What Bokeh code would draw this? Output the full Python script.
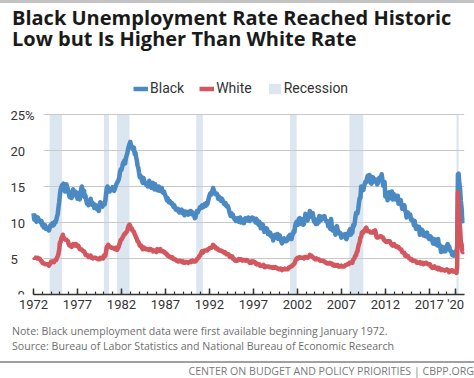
import numpy as np
from bokeh.plotting import figure
from bokeh.models import (Range1d, FixedTicker, Legend, LegendItem,
                          LabelSet, ColumnDataSource, Div)
from bokeh.layouts import column
from bokeh.embed import file_html
from bokeh.resources import INLINE
from bokeh.core.properties import value

# ---------------- data (monthly, Jan 1972 - Dec 2020) ----------------
start_year = 1972
black = [
    11.3, 10.4, 10.9, 10.3, 10.1, 10.5, 10.7, 10.4, 10.2, 10.3, 10.0, 10.2,  # 1972
    9.6, 9.8, 9.3, 9.4, 9.6, 9.1, 9.2, 9.3, 9.1, 8.9, 9.2, 9.6,              # 1973
    9.5, 9.8, 9.9, 9.6, 9.7, 10.1, 10.0, 10.3, 10.8, 11.1, 12.0, 12.8,       # 1974
    13.8, 14.6, 14.9, 15.2, 14.7, 15.4, 14.8, 14.3, 14.9, 15.3, 14.9, 14.6,  # 1975
    14.1, 13.6, 13.5, 13.9, 13.4, 14.2, 14.6, 14.1, 13.8, 14.3, 14.2, 13.8,  # 1976
    13.3, 14.1, 13.7, 13.2, 13.6, 14.7, 15.0, 14.5, 14.3, 14.4, 13.5, 13.7,  # 1977
    13.1, 12.6, 12.7, 12.4, 12.7, 12.9, 13.3, 12.5, 12.8, 12.4, 12.6, 12.0,  # 1978
    12.2, 12.4, 12.3, 11.8, 11.9, 11.6, 12.1, 12.8, 12.5, 12.3, 12.2, 12.6,  # 1979
    12.7, 12.5, 13.0, 14.0, 14.8, 15.0, 14.7, 14.6, 14.3, 14.6, 14.5, 14.7,  # 1980
    14.9, 14.5, 14.4, 14.7, 15.0, 15.3, 15.5, 15.7, 15.9, 16.3, 17.0, 17.4,  # 1981
    17.3, 17.7, 18.2, 18.4, 18.6, 18.2, 18.9, 19.3, 19.6, 20.2, 20.6, 20.9,  # 1982
    21.2, 20.8, 20.4, 20.5, 20.1, 20.4, 19.5, 19.7, 19.1, 18.6, 17.9, 17.6,  # 1983
    16.9, 16.3, 16.5, 16.2, 15.8, 15.5, 16.2, 15.8, 15.6, 15.4, 15.2, 15.3,  # 1984
    15.0, 15.3, 15.8, 15.1, 15.2, 14.8, 15.3, 15.5, 15.0, 14.6, 15.3, 14.7,  # 1985
    14.9, 14.5, 14.8, 15.0, 14.4, 14.7, 14.5, 14.8, 14.2, 14.1, 14.3, 14.0,  # 1986
    13.7, 13.5, 13.1, 13.4, 12.9, 12.8, 13.0, 12.8, 12.6, 12.7, 12.5, 12.2,  # 1987
    12.4, 12.1, 11.8, 11.9, 11.7, 11.9, 11.6, 11.4, 11.6, 11.5, 11.8, 11.3,  # 1988
    11.6, 11.3, 11.0, 11.4, 11.5, 11.2, 11.4, 11.1, 11.5, 11.3, 11.6, 11.2,  # 1989
    11.5, 11.3, 11.0, 11.2, 10.6, 10.7, 11.3, 11.6, 11.4, 11.7, 11.8, 12.1,  # 1990
    12.0, 12.1, 12.4, 12.1, 12.2, 12.4, 12.6, 12.3, 12.7, 12.5, 12.9, 13.3,  # 1991
    13.7, 14.0, 14.1, 13.9, 14.4, 14.8, 14.5, 14.2, 14.1, 13.9, 14.0, 13.8,  # 1992
    13.3, 13.6, 13.2, 13.4, 13.0, 13.3, 13.1, 12.9, 12.6, 12.5, 12.7, 12.3,  # 1993
    12.2, 12.3, 12.0, 11.6, 11.2, 10.9, 11.3, 11.0, 11.1, 10.7, 10.5, 10.6,  # 1994
    10.2, 10.5, 10.3, 10.6, 10.1, 10.4, 10.7, 10.0, 10.3, 10.4, 10.2, 9.9,   # 1995
    10.2, 10.6, 10.4, 10.5, 10.3, 10.7, 10.5, 10.2, 10.6, 10.4, 10.7, 10.5,  # 1996
    10.6, 10.4, 10.2, 10.0, 10.5, 10.3, 9.9, 9.7, 10.1, 9.8, 9.2, 9.8,       # 1997
    9.5, 9.7, 9.1, 8.7, 9.2, 8.9, 9.2, 9.0, 8.4, 8.5, 8.3, 8.6,              # 1998
    8.1, 8.0, 8.2, 7.5, 8.2, 8.0, 8.3, 7.9, 8.0, 8.4, 7.7, 8.1,              # 1999
    8.2, 7.8, 7.4, 7.1, 7.6, 7.7, 7.8, 7.4, 7.5, 7.4, 7.5, 7.6,              # 2000
    8.1, 7.8, 8.3, 7.9, 7.7, 8.2, 8.4, 8.8, 8.7, 9.6, 9.9, 10.1,             # 2001
    9.9, 9.7, 10.5, 10.6, 10.2, 10.5, 9.8, 9.9, 9.7, 9.8, 10.6, 11.2,        # 2002
    10.4, 10.7, 10.3, 10.8, 10.9, 11.6, 11.1, 10.8, 11.2, 11.3, 10.4, 10.1,  # 2003
    10.5, 9.8, 10.2, 9.8, 10.1, 10.0, 10.9, 10.5, 10.3, 10.8, 10.8, 10.6,    # 2004
    10.6, 10.9, 10.4, 10.3, 10.1, 10.2, 9.5, 9.6, 9.3, 9.1, 10.5, 9.3,       # 2005
    8.9, 9.3, 9.0, 8.9, 8.3, 9.1, 9.5, 8.9, 8.5, 8.5, 8.6, 8.3,              # 2006
    7.9, 8.2, 8.3, 8.2, 8.3, 8.4, 7.8, 7.7, 8.0, 8.5, 8.4, 8.9,              # 2007
    9.1, 8.3, 8.9, 8.6, 9.6, 9.5, 9.8, 10.6, 11.3, 11.2, 11.3, 11.9,         # 2008
    12.7, 13.4, 13.4, 15.0, 14.9, 14.7, 14.5, 15.0, 15.4, 15.7, 15.6, 16.2,  # 2009
    16.5, 15.8, 16.6, 16.5, 15.5, 15.4, 15.7, 16.3, 16.1, 15.7, 16.0, 15.8,  # 2010
    15.7, 15.3, 15.5, 16.1, 16.2, 16.3, 15.9, 16.7, 16.0, 15.1, 15.5, 15.6,  # 2011
    13.6, 14.0, 14.1, 13.1, 13.6, 14.2, 14.1, 14.0, 13.4, 14.3, 13.2, 14.0,  # 2012
    13.8, 13.8, 13.2, 13.2, 13.5, 13.7, 12.6, 12.9, 13.0, 13.1, 12.5, 11.9,  # 2013
    12.1, 12.0, 12.4, 11.6, 11.5, 10.7, 11.4, 11.4, 10.9, 10.9, 11.1, 10.4,  # 2014
    10.3, 10.4, 10.1, 9.6, 10.2, 9.5, 9.1, 9.5, 9.2, 9.2, 9.4, 8.3,          # 2015
    8.8, 8.8, 9.0, 8.8, 8.2, 8.6, 8.4, 8.1, 8.3, 8.6, 8.0, 7.8,              # 2016
    7.7, 8.1, 8.0, 7.9, 7.5, 7.1, 7.4, 7.7, 7.0, 7.5, 7.3, 6.8,              # 2017
    7.7, 6.9, 6.9, 6.6, 5.9, 6.5, 6.6, 6.3, 6.0, 6.2, 6.0, 6.6,              # 2018
    6.8, 7.0, 6.7, 6.7, 6.2, 6.0, 6.0, 5.5, 5.5, 5.4, 5.5, 5.9,              # 2019
    6.0, 5.8, 6.7, 16.7, 16.8, 15.4, 14.6, 13.0, 12.1, 10.8, 10.3, 9.9,      # 2020
]
white = [
    5.2, 5.1, 5.1, 5.1, 5.1, 5.0, 5.1, 5.0, 5.0, 4.9, 4.7, 4.7,   # 1972
    4.4, 4.4, 4.3, 4.3, 4.2, 4.2, 4.2, 4.2, 4.2, 4.0, 4.2, 4.3,   # 1973
    4.6, 4.6, 4.6, 4.6, 4.5, 4.7, 4.8, 4.8, 5.1, 5.3, 5.6, 6.2,   # 1974
    7.2, 7.3, 7.8, 8.0, 8.3, 7.9, 7.8, 7.7, 7.6, 7.6, 7.5, 7.4,   # 1975
    7.0, 6.8, 6.8, 6.7, 6.6, 6.9, 7.0, 7.0, 6.9, 6.8, 7.0, 6.9,   # 1976
    6.7, 6.8, 6.6, 6.3, 6.3, 6.3, 6.2, 6.1, 6.0, 6.0, 5.8, 5.5,   # 1977
    5.5, 5.5, 5.4, 5.2, 5.2, 5.2, 5.4, 5.1, 5.1, 5.0, 5.1, 5.1,   # 1978
    5.1, 5.1, 5.0, 5.0, 4.9, 4.9, 4.9, 5.1, 5.0, 5.1, 5.1, 5.0,   # 1979
    5.4, 5.3, 5.4, 6.0, 6.6, 6.7, 6.9, 6.7, 6.6, 6.6, 6.5, 6.5,   # 1980
    6.5, 6.4, 6.4, 6.3, 6.5, 6.5, 6.2, 6.4, 6.6, 6.9, 7.2, 7.6,   # 1981
    7.6, 7.8, 8.0, 8.2, 8.4, 8.4, 8.6, 8.7, 8.9, 9.3, 9.6, 9.7,   # 1982
    9.5, 9.2, 9.2, 8.9, 8.8, 8.7, 8.4, 8.2, 7.9, 7.7, 7.4, 7.3,   # 1983
    7.1, 6.8, 6.7, 6.8, 6.5, 6.3, 6.4, 6.5, 6.4, 6.3, 6.3, 6.3,   # 1984
    6.3, 6.2, 6.3, 6.2, 6.3, 6.2, 6.2, 6.0, 6.1, 6.1, 6.0, 6.0,   # 1985
    5.9, 6.3, 6.2, 6.1, 6.2, 6.3, 6.0, 6.0, 6.0, 6.0, 5.9, 5.9,   # 1986
    5.7, 5.7, 5.6, 5.4, 5.4, 5.3, 5.2, 5.2, 5.1, 5.2, 5.1, 4.9,   # 1987
    4.9, 4.9, 4.8, 4.7, 4.7, 4.6, 4.6, 4.7, 4.7, 4.6, 4.6, 4.5,   # 1988
    4.6, 4.4, 4.4, 4.5, 4.5, 4.5, 4.5, 4.4, 4.5, 4.5, 4.6, 4.5,   # 1989
    4.6, 4.7, 4.6, 4.6, 4.6, 4.6, 4.7, 4.9, 5.0, 5.1, 5.3, 5.4,   # 1990
    5.6, 5.8, 6.0, 5.8, 6.0, 6.1, 6.1, 6.1, 6.1, 6.1, 6.3, 6.3,   # 1991
    6.4, 6.5, 6.5, 6.5, 6.6, 6.9, 6.8, 6.7, 6.6, 6.4, 6.4, 6.4,   # 1992
    6.2, 6.2, 6.1, 6.1, 6.1, 6.0, 6.0, 5.9, 5.8, 5.9, 5.8, 5.6,   # 1993
    5.6, 5.6, 5.6, 5.4, 5.2, 5.3, 5.3, 5.3, 5.0, 5.0, 4.8, 4.7,   # 1994
    4.8, 4.7, 4.7, 4.8, 4.9, 4.8, 4.9, 4.9, 4.8, 4.7, 4.8, 4.8,   # 1995
    4.8, 4.7, 4.8, 4.8, 4.7, 4.6, 4.6, 4.4, 4.5, 4.4, 4.6, 4.5,   # 1996
    4.6, 4.5, 4.5, 4.3, 4.2, 4.3, 4.2, 4.2, 4.2, 4.0, 4.0, 4.0,   # 1997
    4.0, 4.0, 4.1, 3.8, 3.8, 3.9, 3.9, 3.9, 3.9, 3.9, 3.8, 3.8,   # 1998
    3.8, 3.8, 3.7, 3.8, 3.7, 3.7, 3.8, 3.7, 3.7, 3.6, 3.6, 3.5,   # 1999
    3.5, 3.6, 3.5, 3.4, 3.5, 3.5, 3.5, 3.6, 3.5, 3.5, 3.5, 3.5,   # 2000
    3.7, 3.8, 3.8, 3.9, 3.9, 4.0, 4.1, 4.2, 4.3, 4.6, 4.8, 5.0,   # 2001
    5.1, 5.0, 5.1, 5.2, 5.1, 5.1, 5.1, 5.1, 5.1, 5.0, 5.2, 5.2,   # 2002
    5.2, 5.2, 5.1, 5.2, 5.3, 5.5, 5.4, 5.4, 5.3, 5.2, 5.1, 5.0,   # 2003
    4.9, 4.9, 5.0, 4.9, 4.9, 4.9, 4.8, 4.7, 4.7, 4.7, 4.7, 4.7,   # 2004
    4.6, 4.6, 4.5, 4.4, 4.4, 4.3, 4.3, 4.3, 4.4, 4.3, 4.3, 4.3,   # 2005
    4.1, 4.1, 4.0, 4.1, 4.0, 4.0, 4.1, 4.1, 3.9, 3.9, 3.9, 3.9,   # 2006
    4.0, 3.9, 3.9, 3.9, 3.9, 4.0, 4.1, 4.1, 4.2, 4.2, 4.2, 4.4,   # 2007
    4.4, 4.4, 4.5, 4.4, 4.8, 4.9, 5.1, 5.4, 5.4, 5.9, 6.0, 6.6,   # 2008
    7.0, 7.3, 7.9, 8.0, 8.6, 8.7, 8.6, 8.9, 8.9, 9.2, 9.3, 9.0,   # 2009
    8.8, 8.8, 8.8, 8.7, 8.6, 8.6, 8.6, 8.7, 8.8, 8.6, 8.9, 8.5,   # 2010
    8.0, 7.9, 7.9, 8.0, 8.0, 8.1, 8.1, 8.0, 7.9, 7.9, 7.6, 7.5,   # 2011
    7.4, 7.3, 7.3, 7.4, 7.4, 7.4, 7.4, 7.2, 7.0, 6.9, 6.8, 6.9,   # 2012
    7.0, 6.8, 6.7, 6.6, 6.7, 6.6, 6.6, 6.4, 6.3, 6.3, 6.2, 5.9,   # 2013
    5.8, 5.8, 5.8, 5.4, 5.5, 5.3, 5.3, 5.3, 5.1, 5.0, 4.9, 4.8,   # 2014
    4.9, 4.7, 4.7, 4.7, 4.7, 4.6, 4.6, 4.4, 4.4, 4.4, 4.4, 4.5,   # 2015
    4.3, 4.3, 4.4, 4.4, 4.2, 4.3, 4.3, 4.4, 4.4, 4.3, 4.2, 4.2,   # 2016
    4.2, 4.2, 3.9, 3.8, 3.7, 3.8, 3.8, 3.9, 3.7, 3.7, 3.6, 3.7,   # 2017
    3.5, 3.7, 3.6, 3.5, 3.4, 3.5, 3.4, 3.4, 3.4, 3.3, 3.4, 3.4,   # 2018
    3.5, 3.4, 3.4, 3.1, 3.3, 3.3, 3.3, 3.4, 3.2, 3.2, 3.2, 3.2,   # 2019
    3.1, 3.0, 4.0, 14.2, 12.4, 10.1, 9.2, 7.3, 7.0, 6.0, 5.9, 6.0,  # 2020
]
recession_start = ["1973-11", "1980-01", "1981-07", "1990-07", "2001-03", "2007-12", "2020-02"]
recession_end = ["1975-03", "1980-07", "1982-11", "1991-03", "2001-11", "2009-06", "2020-04"]

x_ticks = [1972, 1977, 1982, 1987, 1992, 1997, 2002, 2007, 2012, 2017, 2020]
x_tick_labels = ["1972", "1977", "1982", "1987", "1992", "1997", "2002", "2007", "2012", "2017", "'20"]
y_ticks = [0, 5, 10, 15, 20, 25]
y_tick_labels = ["0", "5", "10", "15", "20", "25%"]

title_lines = ["Black Unemployment Rate Reached Historic", "Low but Is Higher Than White Rate"]
note_lines = ["Note: Black unemployment data were first available beginning January 1972.",
              "Source: Bureau of Labor Statistics and National Bureau of Economic Research"]
footer_text = "CENTER ON BUDGET AND POLICY PRIORITIES | CBPP.ORG"

# ---------------- derived ----------------
months = np.arange(len(black))
x = start_year + months / 12.0


def ym_to_float(s, end=False):
    yy, mm = s.split("-")
    return int(yy) + (int(mm) - 1 + (1 if end else 0)) / 12.0


rec_left = [ym_to_float(s) for s in recession_start]
rec_right = [ym_to_float(s, end=True) for s in recession_end]

BLUE = "#4a89c2"
RED = "#d2575e"
BAND = "#dbe6f1"
GRID = "#c9c9c9"
FONT = "Roboto"

x_min, x_max = 1972, 2021
y_min, y_max = y_ticks[0], y_ticks[-1]

# layout (pixels): data area 431 x 180 px, room at left for y labels and on top for the legend
PAGE_W = 474
DATA_W, DATA_H = 431, 180
LEFT_PAD, TOP_PAD, RIGHT_PAD = 33, 52, 10
px_per_year = DATA_W / (x_max - x_min)
px_per_unit = DATA_H / (y_max - y_min)
x_lo = x_min - LEFT_PAD / px_per_year
y_hi = y_max + TOP_PAD / px_per_unit
grid_x0 = x_min + 10 / px_per_year   # gridlines start a little right of the axis start

p = figure(frame_width=LEFT_PAD + DATA_W, frame_height=DATA_H + TOP_PAD,
           x_range=Range1d(x_lo, x_max), y_range=Range1d(y_min, y_hi),
           output_backend="svg", toolbar_location=None, title=None,
           min_border_left=0, min_border_right=RIGHT_PAD, min_border_top=0, min_border_bottom=24)
p.outline_line_color = None
p.xgrid.visible = False
p.ygrid.visible = False
p.yaxis.visible = False

rq = p.quad(left=rec_left, right=rec_right, bottom=y_min, top=y_max,
            fill_color=BAND, line_color=None)
grid_y = y_ticks[1:]
p.segment(x0=[grid_x0] * len(grid_y), x1=[x_max] * len(grid_y), y0=grid_y, y1=grid_y,
          line_color=GRID, line_width=1)
rb = p.line(x, black, line_color=BLUE, line_width=4.5, line_join="round")
rw = p.line(x, white, line_color=RED, line_width=4.5, line_join="round")

# x axis (restricted to the data years)
xa = p.xaxis[0]
xa.bounds = (x_min, x_max)
xa.ticker = FixedTicker(ticks=x_ticks, minor_ticks=list(range(x_min, x_max)))
xa.major_label_overrides = {t: l for t, l in zip(x_ticks, x_tick_labels)}
xa.major_tick_in = 6
xa.major_tick_out = 0
xa.minor_tick_in = 3
xa.minor_tick_out = 0
xa.axis_line_color = "#333333"
xa.axis_line_width = 1.5
xa.major_tick_line_color = "#333333"
xa.minor_tick_line_color = "#333333"
xa.major_tick_line_width = 1.5
xa.minor_tick_line_width = 1.2
xa.major_label_standoff = 2
xa.major_label_text_font = FONT
xa.major_label_text_font_size = "13px"
xa.major_label_text_color = "#333333"

# y tick labels, left aligned as in the reference
ysrc = ColumnDataSource(dict(
    y=y_ticks, text=y_tick_labels,
    xo=[-16 if t == 0 else -23 for t in y_ticks]))
p.add_layout(LabelSet(x=x_min, y="y", text="text", source=ysrc, x_offset="xo", y_offset=-1,
                      text_align="left", text_baseline="middle",
                      text_font=value(FONT), text_font_size="13px", text_color="#333333"))

# legend above the data area
legend = Legend(items=[LegendItem(label="Black", renderers=[rb]),
                       LegendItem(label="White", renderers=[rw]),
                       LegendItem(label="Recession", renderers=[rq])],
                orientation="horizontal", location=(133, DATA_H + 18),
                border_line_color=None, background_fill_alpha=0,
                label_text_font=FONT, label_text_font_size="14px", label_text_color="#333333",
                glyph_width=15, glyph_height=13, label_standoff=2, spacing=15,
                padding=0, margin=0)
p.add_layout(legend)

title_div = Div(text=(
    '<div style="width:474px;height:3px;background:#c3c3c3"></div>'
    '<div style="margin-left:12px;margin-top:4px;font-family:\'Open Sans\';font-weight:bold;'
    'font-size:20px;line-height:21px;color:#1a1a1a;white-space:nowrap">'
    + title_lines[0] + '<br>' + title_lines[1] + '</div>'),
    width=PAGE_W, height=62, margin=0)

notes_div = Div(text=(
    '<div style="margin-left:12px;padding-top:6px;font-family:\'Open Sans\';font-size:10.6px;'
    'line-height:15px;color:#6e6e6e;white-space:nowrap">'
    + note_lines[0] + '<br>' + note_lines[1] + '</div>'),
    width=PAGE_W, height=36, margin=0)

footer_div = Div(text=(
    '<div style="margin-top:7px;width:474px;border-top:2px solid #a0a0a0;'
    'padding-top:3px;text-align:right;font-family:\'Open Sans\';font-size:10.6px;'
    'color:#7a7a7a;white-space:nowrap;line-height:11px">' + footer_text + '</div>'),
    width=PAGE_W, height=24, margin=0)

layout = column(title_div, p, notes_div, footer_div, spacing=0)
open("out.html", "w").write(file_html(layout, INLINE))
